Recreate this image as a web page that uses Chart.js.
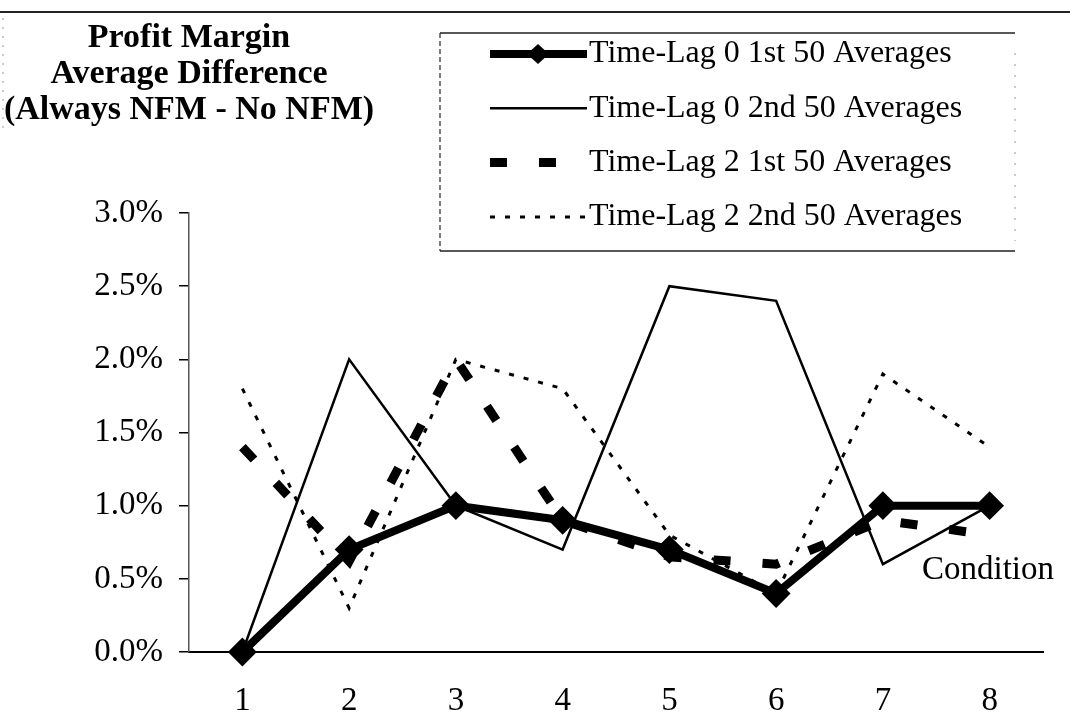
<!DOCTYPE html>
<html>
<head>
<meta charset="utf-8">
<title>Profit Margin Average Difference</title>
<script src="https://cdn.jsdelivr.net/npm/chart.js@4/dist/chart.umd.min.js"></script>
<style>
  html, body { margin: 0; padding: 0; background: #fff; }
  #wrap { width: 1070px; height: 721px; }
</style>
</head>
<body>
<div id="wrap"><canvas id="marginChart" width="1070" height="721"></canvas></div>
<script>
// conditions on the x axis
const conditions = ["1", "2", "3", "4", "5", "6", "7", "8"];

// average profit margin difference, in percent
const lag0First = [0.0, 0.7, 1.0, 0.9, 0.7, 0.4, 1.0, 1.0];
const lag0Second = [0.0, 2.0, 1.0, 0.7, 2.5, 2.4, 0.6, 1.0];
const lag2First = [1.4, 0.62, 2.0, 0.9, 0.65, 0.6, 0.9, 0.8];
const lag2Second = [1.8, 0.3, 2.0, 1.8, 0.8, 0.4, 1.9, 1.4];

const seriesNames = [
  "Time-Lag 0 1st 50 Averages",
  "Time-Lag 0 2nd 50 Averages",
  "Time-Lag 2 1st 50 Averages",
  "Time-Lag 2 2nd 50 Averages",
];

const titleLines = ["Profit Margin", "Average Difference", "(Always NFM - No NFM)"];
const xAxisName = "Condition";

const SERIF = "'Liberation Serif', 'Times New Roman', serif";
Chart.defaults.font.family = SERIF;
Chart.defaults.color = "#000";

// title, boxed legend and the stray frame lines
const decorations = {
  id: "decorations",
  afterDraw(chart) {
    const ctx = chart.ctx;
    ctx.save();

    // rule across the top of the page
    ctx.strokeStyle = "#222";
    ctx.lineWidth = 2;
    ctx.beginPath();
    ctx.moveTo(0, 12);
    ctx.lineTo(1070, 12);
    ctx.stroke();

    // faint left edge
    ctx.strokeStyle = "#999";
    ctx.lineWidth = 1;
    ctx.setLineDash([2, 7]);
    ctx.beginPath();
    ctx.moveTo(3, 18);
    ctx.lineTo(3, 130);
    ctx.stroke();

    // title
    ctx.setLineDash([]);
    ctx.fillStyle = "#000";
    ctx.font = "bold 34px " + SERIF;
    ctx.textAlign = "center";
    ctx.textBaseline = "middle";
    titleLines.forEach((t, i) => ctx.fillText(t, 189, 38 + i * 36));

    // legend box
    const bx0 = 440, by0 = 33, bx1 = 1015, by1 = 251;
    ctx.strokeStyle = "#222";
    ctx.lineWidth = 1.5;
    ctx.beginPath();
    ctx.moveTo(bx0, by0); ctx.lineTo(bx1, by0);
    ctx.moveTo(bx0, by1); ctx.lineTo(bx1, by1);
    ctx.stroke();
    ctx.setLineDash([5, 3]);
    ctx.lineWidth = 1.2;
    ctx.beginPath();
    ctx.moveTo(bx0, by0); ctx.lineTo(bx0, by1);
    ctx.stroke();
    ctx.strokeStyle = "#aaa";
    ctx.setLineDash([2, 9]);
    ctx.beginPath();
    ctx.moveTo(bx1, by0 + 20); ctx.lineTo(bx1, by1 - 10);
    ctx.stroke();

    // legend entries, styled from each dataset
    chart.data.datasets.forEach((ds, i) => {
      const y = 54 + i * 54.3;
      ctx.strokeStyle = ds.borderColor;
      ctx.lineWidth = ds.borderWidth;
      ctx.lineCap = "butt";
      ctx.setLineDash(ds.borderDash || []);
      ctx.beginPath();
      ctx.moveTo(490, y);
      ctx.lineTo(587, y);
      ctx.stroke();
      ctx.setLineDash([]);
      if (ds.pointRadius > 0) {
        ctx.fillStyle = ds.pointBackgroundColor;
        ctx.beginPath();
        ctx.moveTo(538 - 11, y);
        ctx.lineTo(538, y - 10);
        ctx.lineTo(538 + 11, y);
        ctx.lineTo(538, y + 10);
        ctx.closePath();
        ctx.fill();
      }
      ctx.fillStyle = "#000";
      ctx.font = "32px " + SERIF;
      ctx.textAlign = "left";
      ctx.textBaseline = "middle";
      ctx.fillText(ds.label, 589, y);
    });

    // axis name sits inside the plot, lower right
    ctx.font = "33px " + SERIF;
    ctx.textAlign = "left";
    ctx.textBaseline = "middle";
    ctx.fillText(xAxisName, 922, 570);

    ctx.restore();
  },
};

const ctx = document.getElementById("marginChart").getContext("2d");
new Chart(ctx, {
  type: "line",
  data: {
    labels: conditions,
    datasets: [
      {
        label: seriesNames[0],
        data: lag0First,
        borderColor: "#000",
        borderWidth: 8,
        pointStyle: "rectRot",
        pointRadius: 13,
        pointBackgroundColor: "#000",
        pointBorderColor: "#000",
        pointBorderWidth: 2,
        clip: false,
      },
      {
        label: seriesNames[1],
        data: lag0Second,
        borderColor: "#000",
        borderWidth: 2.5,
        pointRadius: 0,
      },
      {
        label: seriesNames[2],
        data: lag2First,
        borderColor: "#000",
        borderWidth: 9,
        borderDash: [17, 32],
        pointRadius: 0,
      },
      {
        label: seriesNames[3],
        data: lag2Second,
        borderColor: "#000",
        borderWidth: 3,
        borderDash: [5, 10],
        pointRadius: 0,
      },
    ],
  },
  options: {
    responsive: false,
    animation: false,
    devicePixelRatio: 1,
    layout: { padding: { top: 213, right: 27, left: 0, bottom: 0 } },
    elements: { line: { tension: 0, fill: false } },
    plugins: {
      legend: { display: false },
      title: { display: false },
      tooltip: { enabled: false },
    },
    scales: {
      x: {
        offset: true,
        grid: { display: false, drawTicks: false },
        border: { display: true, color: "#000", width: 2 },
        ticks: { font: { size: 33 }, padding: 30, color: "#000" },
        afterFit: (scale) => { scale.height = 69; },
      },
      y: {
        min: 0,
        max: 3.0,
        ticks: {
          stepSize: 0.5,
          font: { size: 33 },
          padding: 16,
          color: "#000",
          callback: (v) => v.toFixed(1) + "%",
        },
        grid: {
          drawOnChartArea: false,
          drawTicks: true,
          tickLength: 10,
          color: "#000",
          lineWidth: 1.5,
        },
        border: { display: true, color: "#555", width: 1.5, dash: [4, 4] },
        afterFit: (scale) => { scale.width = 189; },
      },
    },
  },
  plugins: [decorations],
});
</script>
</body>
</html>
